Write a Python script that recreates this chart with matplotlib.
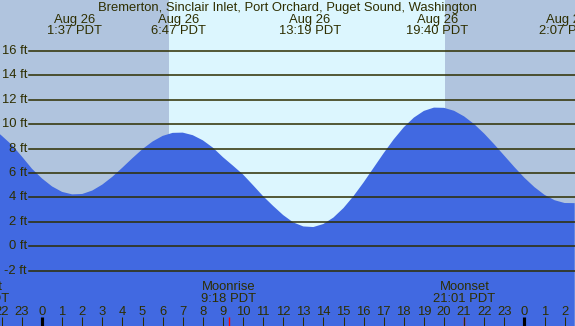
import matplotlib
matplotlib.use("Agg")
import matplotlib.pyplot as plt

# tide height (ft), every half hour (hours from midnight Aug 26)
hours = [-2.5, -2.0, -1.5, -1.0, -0.5, 0.0, 0.5, 1.0, 1.5, 2.0, 2.5, 3.0, 3.5, 4.0,
         4.5, 5.0, 5.5, 6.0, 6.5, 7.0, 7.5, 8.0, 8.5, 9.0, 9.5, 10.0, 10.5, 11.0,
         11.5, 12.0, 12.5, 13.0, 13.5, 14.0, 14.5, 15.0, 15.5, 16.0, 16.5, 17.0,
         17.5, 18.0, 18.5, 19.0, 19.5, 20.0, 20.5, 21.0, 21.5, 22.0, 22.5, 23.0,
         23.5, 24.0, 24.5, 25.0, 25.5, 26.0, 26.5]
heights = [9.75, 9.05, 8.3, 7.35, 6.35, 5.55, 4.9, 4.45, 4.25, 4.28, 4.56, 5.05, 5.69, 6.44,
           7.22, 7.96, 8.58, 9.04, 9.29, 9.31, 9.10, 8.68, 8.08, 7.3, 6.6, 5.88, 5.0, 4.1,
           3.3, 2.55, 1.95, 1.62, 1.57, 1.82, 2.35, 3.13, 4.11, 5.23, 6.43, 7.63,
           8.76, 9.75, 10.54, 11.09, 11.36, 11.34, 11.10, 10.64, 10.01, 9.23, 8.35, 7.42,
           6.49, 5.61, 4.84, 4.21, 3.77, 3.54, 3.53]

# high / low tide labels along the top
extreme_hours = [1.617, 6.783, 13.317, 19.667, 26.117]
extreme_dates = ["Aug 26", "Aug 26", "Aug 26", "Aug 26", "Aug 27"]
extreme_times = ["1:37 PDT", "6:47 PDT", "13:19 PDT", "19:40 PDT", "2:07 PDT"]

# night shading (sunset -> sunrise)
night_spans = [(-4.0, 6.32), (20.05, 28.0)]

# moon events along the bottom
moon_hours = [-3.18, 9.3, 21.017]
moon_names = ["Moonset", "Moonrise", "Moonset"]
moon_times = ["20:49 PDT", "9:18 PDT", "21:01 PDT"]

ft_levels = [-2, 0, 2, 4, 6, 8, 10, 12, 14, 16]
hour_ticks = list(range(-2, 27))

title = "Bremerton, Sinclair Inlet, Port Orchard, Puget Sound, Washington"

night_color = "#B0C4DE"
day_color = "#DCF6FE"
water_color = "#4169E1"
ink = "#2E2E00"
font = "Liberation Sans"
fs = 9.4

# pixel geometry of the original: 20.1 px per hour, 12.2 px per ft
W, H = 575, 326
px_h, px_ft = 20.1, 12.2
x0_px, y0_px = 42.0, 246.2
xmin = -x0_px / px_h
xmax = (W - x0_px) / px_h
ymax = y0_px / px_ft
ymin = (y0_px - H) / px_ft


def ft_at(py):
    return (y0_px - py) / px_ft


fig = plt.figure(figsize=(W / 100, H / 100), dpi=100)
ax = fig.add_axes([0, 0, 1, 1])
ax.set_xlim(xmin, xmax)
ax.set_ylim(ymin, ymax)
ax.axis("off")

ax.axvspan(xmin, xmax, color=day_color, lw=0, zorder=0)
for a, b in night_spans:
    ax.axvspan(a, b, color=night_color, lw=0, zorder=1)

ax.fill_between(hours, heights, ymin, color=water_color, lw=0, zorder=2)

# grid lines and labels
for lv in ft_levels:
    ax.axhline(lv, xmin=29 / W, xmax=1, color=ink, lw=1.1, zorder=3)
    ax.text(xmin + 27 / px_h, lv, f"{lv} ft", ha="right", va="center",
            fontsize=fs, color=ink, family=font, zorder=4)

ax.text((xmin + xmax) / 2, ft_at(7.5), title, ha="center", va="center",
        fontsize=fs, color=ink, family=font, zorder=4)
for h, d, t in zip(extreme_hours, extreme_dates, extreme_times):
    ax.text(h, ft_at(19.5), d, ha="center", va="center", fontsize=fs,
            color=ink, family=font, zorder=4)
    ax.text(h, ft_at(31.5), t, ha="center", va="center", fontsize=fs,
            color=ink, family=font, zorder=4)

for h, n, t in zip(moon_hours, moon_names, moon_times):
    ax.text(h, ft_at(287), n, ha="center", va="center", fontsize=fs,
            color=ink, family=font, zorder=4)
    ax.text(h, ft_at(299), t, ha="center", va="center", fontsize=fs,
            color=ink, family=font, zorder=4)
    ax.vlines(h, ymin, ft_at(317), color="red", lw=1, zorder=4)

for h in hour_ticks:
    ax.text(h, ft_at(312), str(h % 24), ha="center", va="center", fontsize=fs,
            color=ink, family=font, zorder=4)
    lw = 3 if h % 24 == 0 else 1
    col = "black" if h % 24 == 0 else ink
    ax.vlines(h, ymin, ft_at(317), color=col, lw=lw * 0.75, zorder=4)

fig.savefig("out.png", dpi=100)
